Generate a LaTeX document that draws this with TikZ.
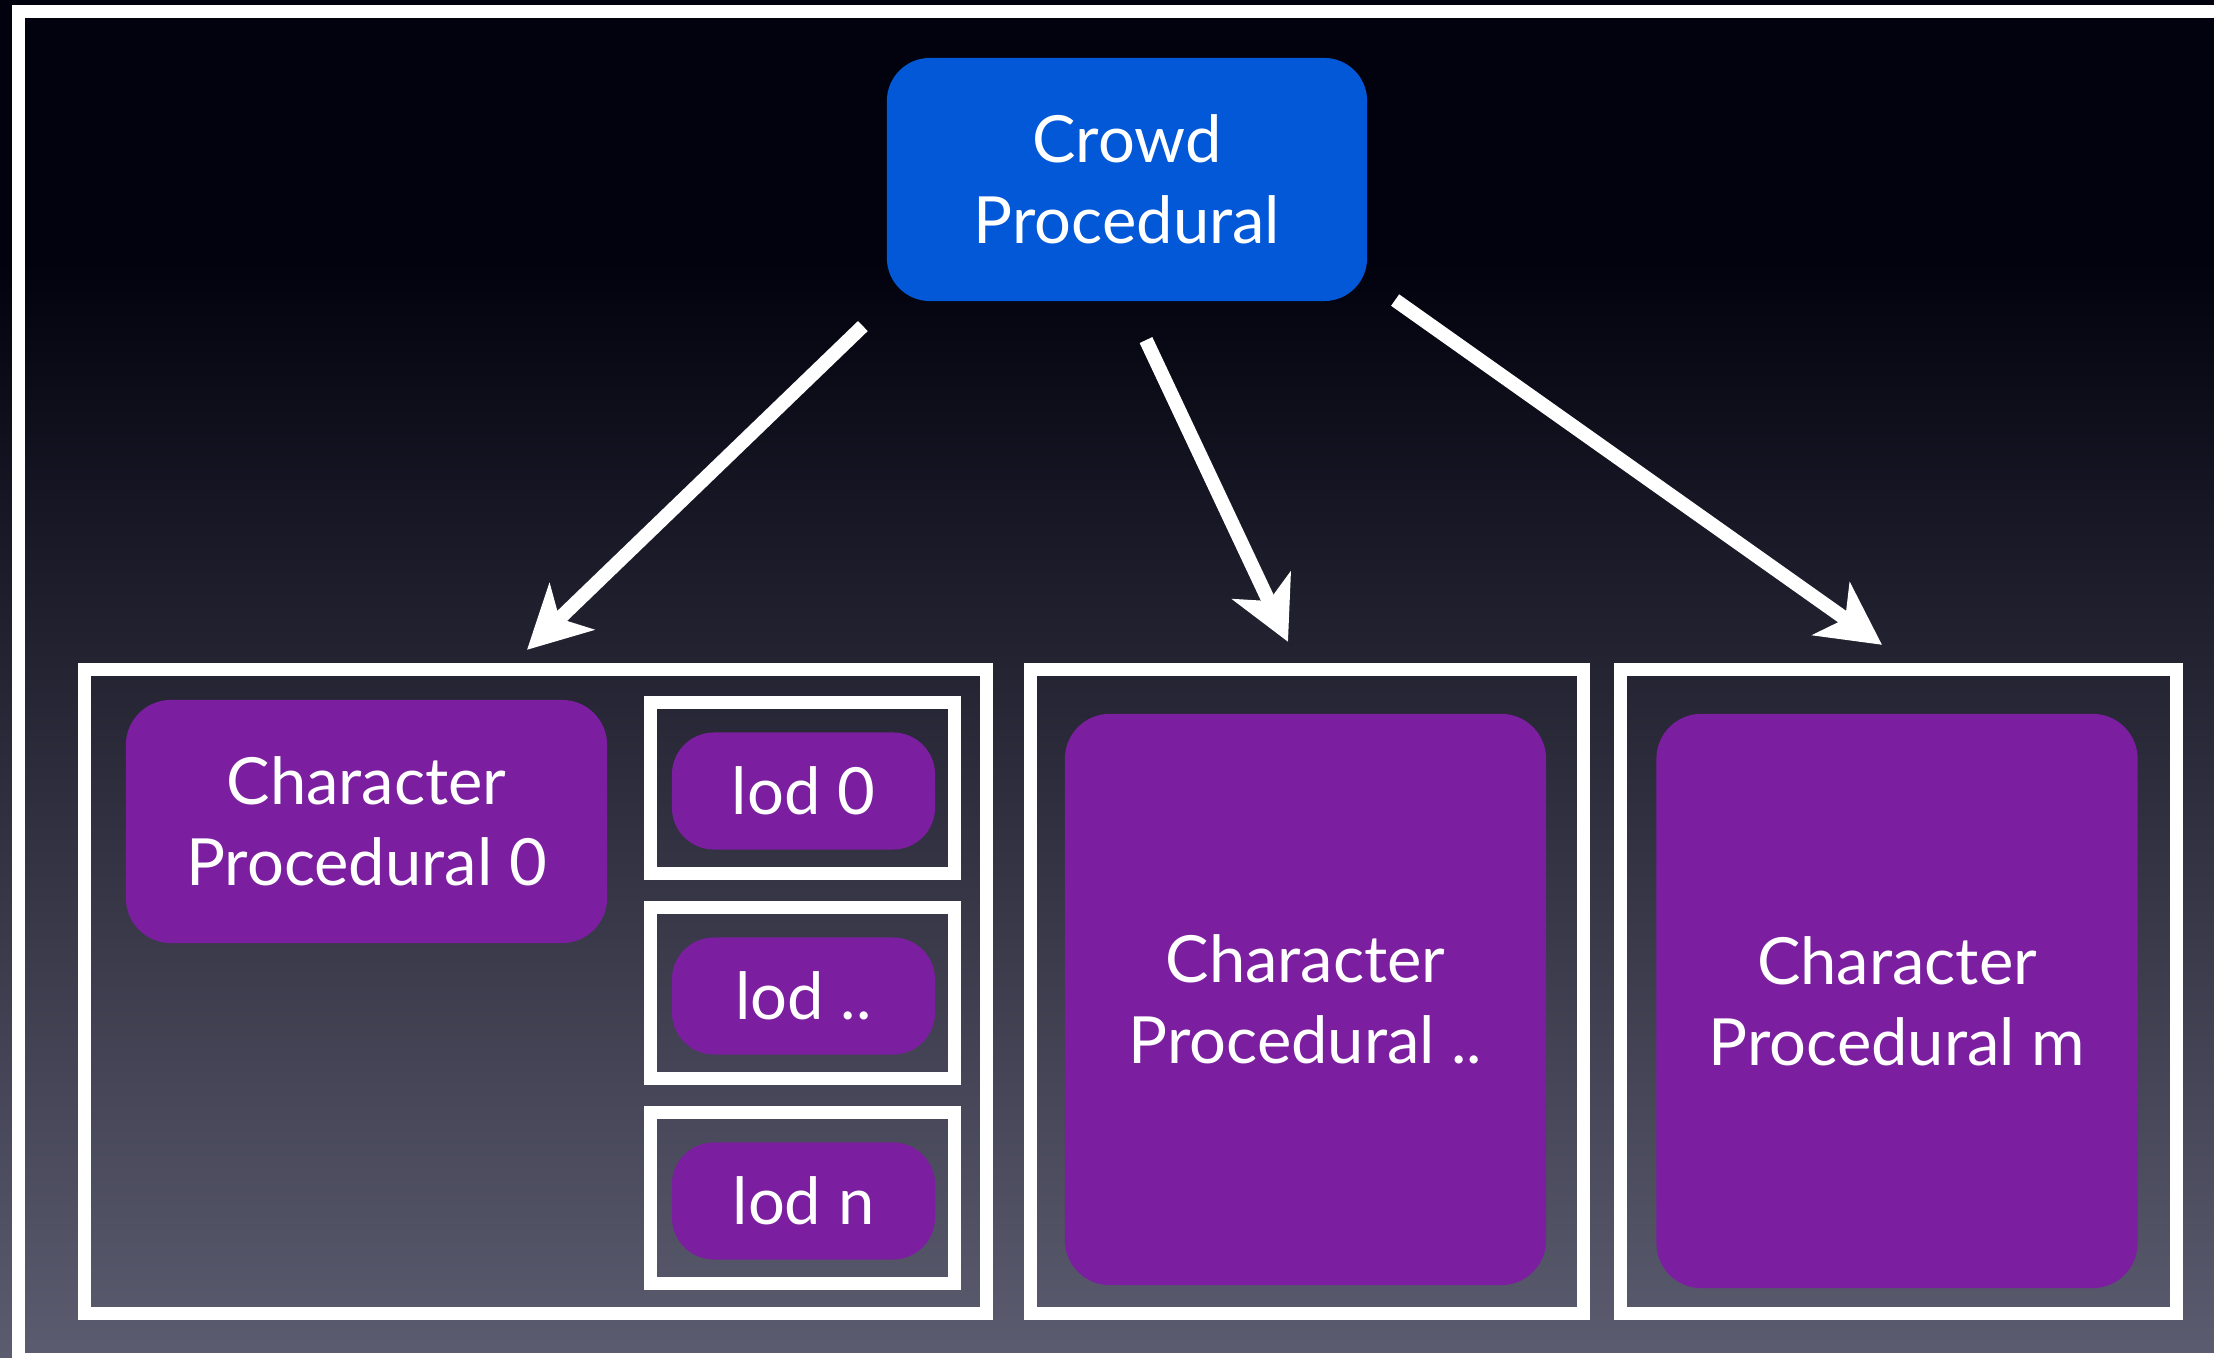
\documentclass[tikz,border=0pt]{standalone}
\usepackage{fontspec}
\setmainfont{Lato}
\usetikzlibrary{arrows.meta}

\definecolor{crowdblue}{RGB}{3,88,216}
\definecolor{charpurple}{RGB}{123,31,160}
\definecolor{bgtop}{RGB}{2,2,14}
\definecolor{bgmid}{RGB}{40,40,64}
\definecolor{bgbot}{RGB}{92,92,112}

\begin{document}
\begin{tikzpicture}[
			x=0.01cm, y=-0.01cm,
			every node/.style={inner sep=0pt, outer sep=0pt, align=center, text=white, font=\fontsize{18.5}{23}\selectfont},
			crowdbox/.style={fill=crowdblue, rounded corners=0.43cm, minimum width=4.80cm, minimum height=2.43cm},
			charbox/.style={fill=charpurple, rounded corners=0.45cm, minimum width=4.81cm},
			lodbox/.style={fill=charpurple, rounded corners=0.42cm, minimum width=2.63cm, minimum height=1.17cm},
			groupbox/.style={draw=white, line width=0.13cm},
			flow/.style={draw=white, line width=0.14cm, -{Stealth[length=0.62cm, width=0.64cm, inset=0.17cm]}}
			]
			\useasboundingbox (0,0) rectangle (2214,1358);
			% background and slide frame
			\fill[bgtop] (0,0) rectangle (2214,262);
			\shade[top color=bgtop, middle color=bgmid, bottom color=bgbot] (0,260) rectangle (2214,1358);
			\draw[white, line width=0.13cm] (18.5,11.5) rectangle (2250,1359.5);
			% crowd
			\node[crowdbox] (crowd) at (1127,179.5) {Crowd\\Procedural};
			% groups
			\node[groupbox, minimum width=9.02cm, minimum height=6.44cm] (grp0) at (535.5,991.5) {};
			\node[groupbox, minimum width=5.53cm, minimum height=6.44cm] (grpmid) at (1307,991.5) {};
			\node[groupbox, minimum width=5.56cm, minimum height=6.44cm] (grpm) at (1898.5,991.5) {};
			% character procedurals
			\node[charbox, minimum height=2.43cm] (char0) at (366.5,821.5) {Character\\Procedural 0};
			\node[charbox, minimum height=5.71cm] (charmid) at (1305.5,999.5) {Character\\Procedural ..};
			\node[charbox, minimum height=5.74cm] (charm) at (1897,1001) {Character\\Procedural m};
			% lods
			\foreach \i/\y/\lbl in {0/788/0, 1/993/{..}, 2/1198/n} {
				\node[groupbox, minimum width=3.04cm, minimum height=1.71cm] (lodgrp\i) at (802.5,\y) {};
				\node[lodbox] (lod\i) at (803.5,\y+3) {lod \lbl};
			}
			% arrows
			\draw[flow] ([shift={(-24,25)}]crowd.south west) -- ([shift={(-8.5,-19.5)}]grp0.north);
			\draw[flow] ([shift={(19,39)}]crowd.south) -- ([shift={(-19,-27.5)}]grpmid.north);
			\draw[flow] ([shift={(28,-1)}]crowd.south east) -- ([shift={(-16.5,-24.5)}]grpm.north);
		\end{tikzpicture}
\end{document}
